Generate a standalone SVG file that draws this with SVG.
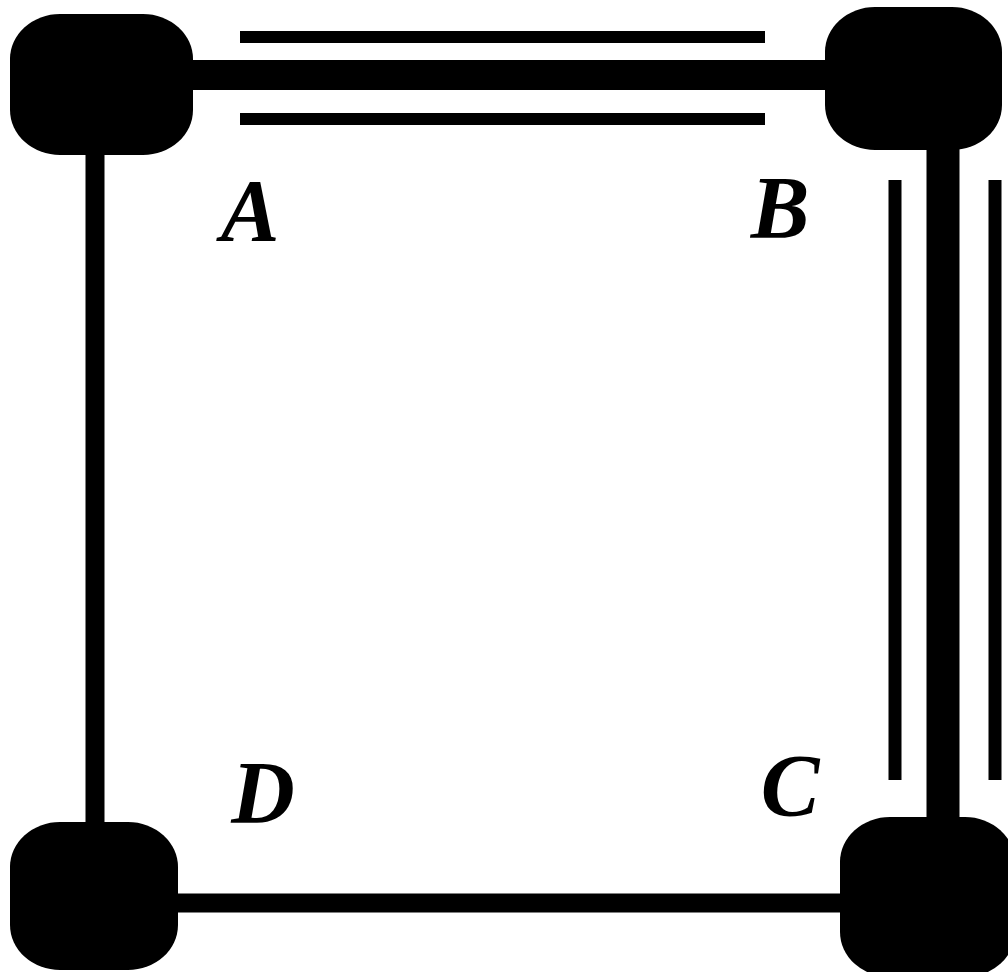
<svg xmlns="http://www.w3.org/2000/svg" width="1008" height="972" viewBox="0 0 1008 972">
<style>
.node{fill:#000}
.thick{stroke:#000;stroke-width:30;fill:none}
.thin{stroke:#000;stroke-width:12;fill:none}
.med{stroke:#000;stroke-width:19;fill:none}
.lbl{font-family:"Liberation Serif",serif;font-style:italic;font-weight:bold;font-size:88px;fill:#000;text-anchor:middle}
</style>
<rect width="1008" height="972" fill="#fff"/>
<g id="connectors">
<line class="thick" x1="150" y1="75" x2="860" y2="75"/>
<line class="thin" x1="240" y1="37" x2="765" y2="37"/>
<line class="thin" x1="240" y1="119" x2="765" y2="119"/>
<line class="thick" x1="943" y1="120" x2="943" y2="850" style="stroke-width:33"/>
<line class="thin" x1="895" y1="180" x2="895" y2="780" style="stroke-width:13"/>
<line class="thin" x1="995" y1="180" x2="995" y2="780" style="stroke-width:13"/>
<line class="med" x1="95" y1="120" x2="95" y2="850"/>
<line class="med" x1="150" y1="903" x2="870" y2="903"/>
</g>
<g id="A"><rect class="node" x="10" y="14" width="183" height="141" rx="50" ry="45"/><text class="lbl" x="250" y="240">A</text></g>
<g id="B"><rect class="node" x="825" y="7" width="177" height="143" rx="50" ry="45"/><text class="lbl" x="780" y="237">B</text></g>
<g id="C"><rect class="node" x="840" y="817" width="175" height="160" rx="50" ry="45"/><text class="lbl" x="790" y="815">C</text></g>
<g id="D"><rect class="node" x="10" y="822" width="168" height="148" rx="50" ry="45"/><text class="lbl" x="263" y="822">D</text></g>
</svg>
